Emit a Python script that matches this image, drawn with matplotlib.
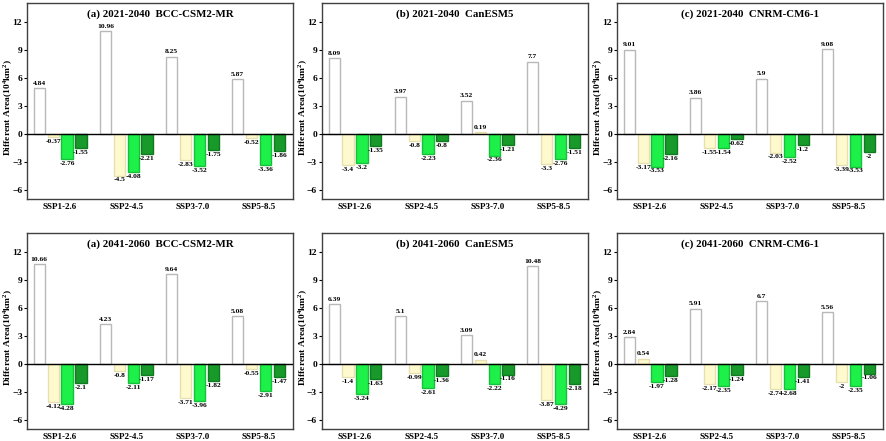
import numpy as np
import matplotlib.pyplot as plt

plt.rcParams['font.family'] = ['Liberation Serif', 'DejaVu Serif']
plt.rcParams['font.weight'] = 'bold'
plt.rcParams['mathtext.fontset'] = 'custom'
plt.rcParams['mathtext.bf'] = 'Liberation Serif:bold'
plt.rcParams['mathtext.rm'] = 'Liberation Serif:bold'

scenarios = ["SSP1-2.6", "SSP2-4.5", "SSP3-7.0", "SSP5-8.5"]
titles = ["(a) 2021-2040  BCC-CSM2-MR", "(b) 2021-2040  CanESM5", "(c) 2021-2040  CNRM-CM6-1",
          "(a) 2041-2060  BCC-CSM2-MR", "(b) 2041-2060  CanESM5", "(c) 2041-2060  CNRM-CM6-1"]

# four bars per scenario (white, yellow, green, dark green), one list per bar type
bcc_2040_s1 = [4.84, 10.96, 8.25, 5.87]
bcc_2040_s2 = [-0.37, -4.5, -2.83, -0.52]
bcc_2040_s3 = [-2.76, -4.08, -3.52, -3.36]
bcc_2040_s4 = [-1.55, -2.21, -1.75, -1.86]

can_2040_s1 = [8.09, 3.97, 3.52, 7.7]
can_2040_s2 = [-3.4, -0.8, 0.19, -3.3]
can_2040_s3 = [-3.2, -2.23, -2.36, -2.76]
can_2040_s4 = [-1.35, -0.8, -1.21, -1.51]

cnrm_2040_s1 = [9.01, 3.86, 5.9, 9.08]
cnrm_2040_s2 = [-3.17, -1.55, -2.03, -3.39]
cnrm_2040_s3 = [-3.53, -1.54, -2.52, -3.53]
cnrm_2040_s4 = [-2.16, -0.62, -1.2, -2]

bcc_2060_s1 = [10.66, 4.23, 9.64, 5.08]
bcc_2060_s2 = [-4.12, -0.8, -3.71, -0.55]
bcc_2060_s3 = [-4.28, -2.11, -3.96, -2.91]
bcc_2060_s4 = [-2.1, -1.17, -1.82, -1.47]

can_2060_s1 = [6.39, 5.1, 3.09, 10.48]
can_2060_s2 = [-1.4, -0.99, 0.42, -3.87]
can_2060_s3 = [-3.24, -2.61, -2.22, -4.29]
can_2060_s4 = [-1.63, -1.36, -1.16, -2.18]

cnrm_2060_s1 = [2.84, 5.91, 6.7, 5.56]
cnrm_2060_s2 = [0.54, -2.17, -2.74, -2]
cnrm_2060_s3 = [-1.97, -2.35, -2.68, -2.35]
cnrm_2060_s4 = [-1.28, -1.24, -1.41, -1.06]

panels = [
    [bcc_2040_s1, bcc_2040_s2, bcc_2040_s3, bcc_2040_s4],
    [can_2040_s1, can_2040_s2, can_2040_s3, can_2040_s4],
    [cnrm_2040_s1, cnrm_2040_s2, cnrm_2040_s3, cnrm_2040_s4],
    [bcc_2060_s1, bcc_2060_s2, bcc_2060_s3, bcc_2060_s4],
    [can_2060_s1, can_2060_s2, can_2060_s3, can_2060_s4],
    [cnrm_2060_s1, cnrm_2060_s2, cnrm_2060_s3, cnrm_2060_s4],
]

face = ["white", "#fffacd", "#1ef04a", "#179a2a"]
edge = ["#b8b8b8", "#e6e0b0", "#16c03a", "#117a20"]

fig = plt.figure(figsize=(8.86, 4.41), dpi=100)

lefts = [0.0305, 0.3634, 0.6964]
bottoms = [0.549, 0.0272]
x = np.arange(1, 5)
pitch = 0.21
width = 0.17

for i in range(6):
    ax = fig.add_axes([lefts[i % 3], bottoms[i // 3], 0.300, 0.444])
    for k in range(4):
        vals = panels[i][k]
        xs = x + (k - 1.5) * pitch
        ax.bar(xs, vals, width, color=face[k], edgecolor=edge[k], linewidth=1.0, zorder=2)
        for xx, v in zip(xs, vals):
            if v >= 0:
                ax.text(xx, v + 0.25, str(v), ha="center", va="bottom", fontsize=5.4, fontweight="bold")
            else:
                ax.text(xx, v - 0.2, str(v), ha="center", va="top", fontsize=5.4, fontweight="bold")
    ax.axhline(0, color="black", linewidth=1.0, zorder=3)
    ax.set_xlim(0.5, 4.52)
    ax.set_ylim(-7, 14)
    ax.set_yticks([-6, -3, 0, 3, 6, 9, 12])
    ax.set_xticks(x)
    ax.set_xticklabels(scenarios)
    ax.tick_params(axis="x", length=0, labelsize=6.5, pad=3)
    ax.tick_params(axis="y", length=2.5, labelsize=6.8, pad=1)
    for lab in ax.get_xticklabels() + ax.get_yticklabels():
        lab.set_fontweight("bold")
    for sp in ax.spines.values():
        sp.set_color("#404040")
        sp.set_linewidth(1.0)
    ax.set_ylabel("Different Area(10$^\\mathbf{4}$km$^\\mathbf{2}$)", fontsize=6.8, fontweight="bold")
    ax.yaxis.set_label_coords(-0.046, 0.47)
    ax.text(0.5, 0.945, titles[i], transform=ax.transAxes, ha="center", va="center",
            fontsize=7.8, fontweight="bold")

plt.savefig("out.png", dpi=100)
